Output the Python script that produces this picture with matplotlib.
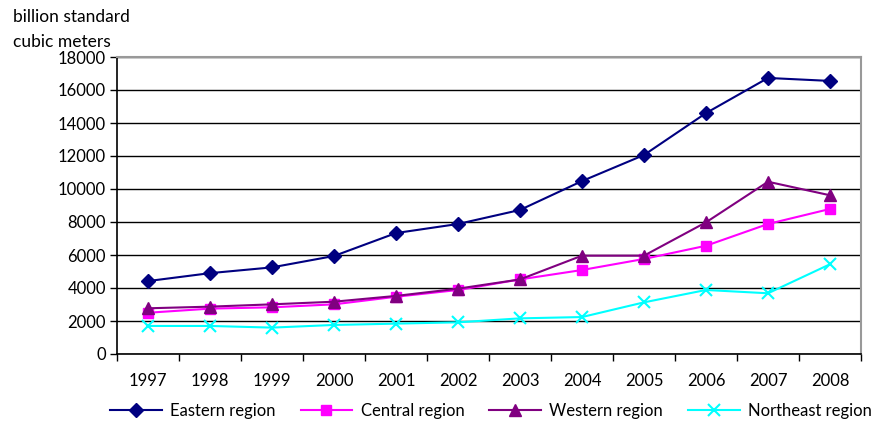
import numpy as np
import matplotlib.pyplot as plt

plt.rcParams['font.family'] = ['Lato', 'DejaVu Sans']

# Natural gas consumption by region
years = ['1997', '1998', '1999', '2000', '2001', '2002',
         '2003', '2004', '2005', '2006', '2007', '2008']
eastern = [4420, 4900, 5250, 5940, 7330, 7880, 8730, 10480, 12060, 14600, 16730, 16550]
central = [2500, 2750, 2830, 3010, 3470, 3880, 4520, 5090, 5760, 6560, 7880, 8790]
western = [2770, 2870, 3010, 3170, 3520, 3960, 4520, 5960, 5960, 7980, 10440, 9620]
northeast = [1700, 1700, 1600, 1760, 1840, 1920, 2160, 2240, 3130, 3880, 3680, 5440]

fig = plt.figure(figsize=(8.75, 4.25), dpi=100)
ax = fig.add_axes([117/875, 1 - 354/425, (861 - 117)/875, (354 - 57)/425])

x = np.arange(len(years))
ax.plot(x, eastern, color='#000080', marker='D', markersize=7.5, lw=1.5, label='Eastern region')
ax.plot(x, central, color='#ff00ff', marker='s', markersize=7, lw=1.5, label='Central region')
ax.plot(x, western, color='#800080', marker='^', markersize=8, lw=1.5, label='Western region')
ax.plot(x, northeast, color='#00ffff', marker='x', markersize=8, mew=1.5, lw=1.5, label='Northeast region')

ax.set_xlim(-0.5, len(years) - 0.5)
ax.set_ylim(0, 18000)
ax.set_yticks(np.arange(0, 18001, 2000))
ax.yaxis.grid(True, color='black', lw=1)
ax.set_axisbelow(True)

# category labels centered, tick marks between categories
ax.set_xticks(x)
ax.set_xticklabels(years)
ax.set_xticks(np.arange(-0.5, len(years)), minor=True)
ax.tick_params(axis='x', which='major', length=0, pad=14, labelsize=12)
ax.tick_params(axis='x', which='minor', length=5, width=1, direction='out')
ax.tick_params(axis='y', length=5, width=1, labelsize=12, pad=3)

for s in ['left', 'bottom']:
    ax.spines[s].set_color('black')
    ax.spines[s].set_linewidth(1.2)
for s in ['top', 'right']:
    ax.spines[s].set_color('#999999')
    ax.spines[s].set_linewidth(1.5)

fig.text(13/875, 1 - 17/425, 'billion standard', fontsize=12.5, va='center', ha='left')
fig.text(13/875, 1 - 42/425, 'cubic meters', fontsize=12.5, va='center', ha='left')

fig.legend(loc='center', bbox_to_anchor=(491/875, 1 - 411/425), ncol=4, frameon=False,
           fontsize=12, handlelength=3.1, columnspacing=1.5, handletextpad=0.5)

fig.savefig('out.png', dpi=100)
